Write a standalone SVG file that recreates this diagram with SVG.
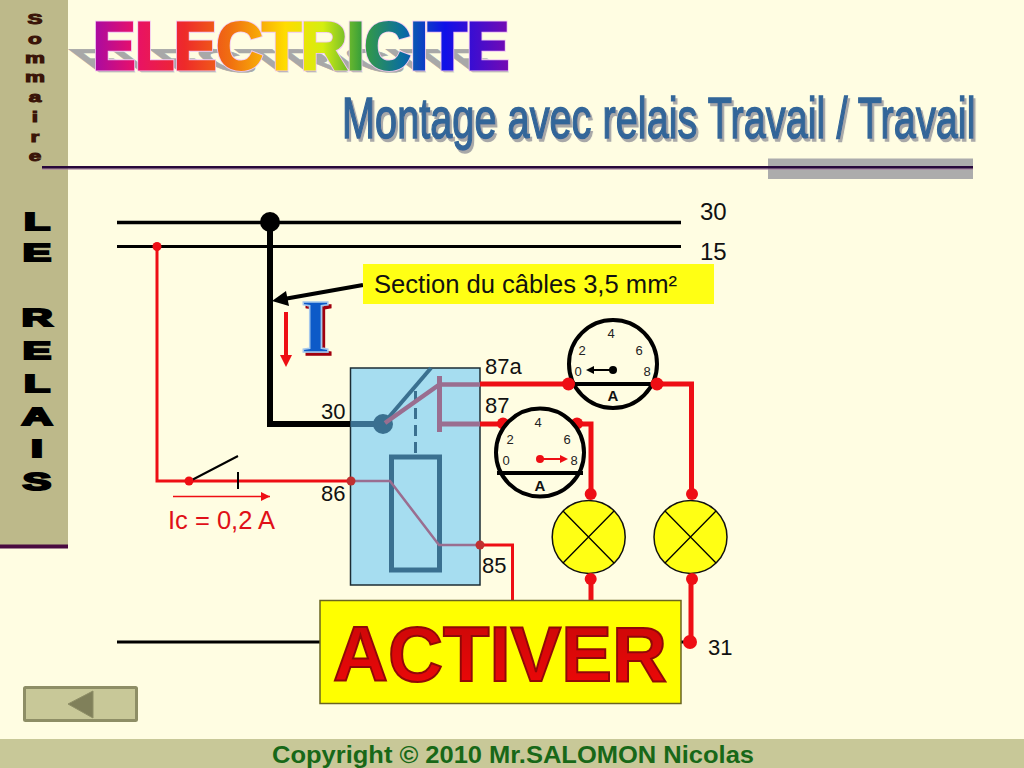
<svg xmlns="http://www.w3.org/2000/svg" xmlns:xlink="http://www.w3.org/1999/xlink" width="1024" height="768" viewBox="0 0 1024 768">
<style>
text{font-family:"Liberation Sans",Arial,sans-serif}
.lbl{font-size:22px;fill:#111}
.lbl2{font-size:24px;fill:#111}
.som{font-size:15px;font-weight:bold;fill:#3a1408;stroke:#3a1408;stroke-width:1;text-anchor:middle}
.rel{font-size:23px;font-weight:bold;fill:#000;stroke:#000;stroke-width:2;text-anchor:middle}
.dial{font-size:13px;fill:#222;text-anchor:middle}
.dialA{font-size:15px;font-weight:bold;fill:#111;text-anchor:middle}
.ring{fill:#fffde2;stroke:#000;stroke-width:4}
.lamp{fill:#ffff14;stroke:#111;stroke-width:1.5}
.wire{fill:none;stroke:#ee0e14;stroke-linejoin:miter}
.blk{fill:none;stroke:#000}
.pur{fill:none;stroke:#9a6e90}
.blu{fill:none;stroke:#3a7090}
.dot{fill:#ee0e14}
</style>
<defs>
<linearGradient id="rainbow" gradientUnits="userSpaceOnUse" x1="92" y1="0" x2="512" y2="0">
<stop offset="0" stop-color="#a50aa5"/><stop offset=".1" stop-color="#e8106a"/><stop offset=".22" stop-color="#ee2a2a"/><stop offset=".33" stop-color="#f07010"/><stop offset=".46" stop-color="#ffdc00"/><stop offset=".55" stop-color="#d4ee10"/><stop offset=".64" stop-color="#3aa03a"/><stop offset=".74" stop-color="#0a6ea0"/><stop offset=".84" stop-color="#1010e8"/><stop offset="1" stop-color="#7a0ab0"/>
</linearGradient>
<linearGradient id="red" x1="0" y1="0" x2="0" y2="1"><stop offset="0" stop-color="#c80808"/><stop offset="1" stop-color="#f00808"/></linearGradient>
<filter id="sh3" x="-5%" y="-10%" width="110%" height="130%"><feDropShadow dx="3" dy="3" stdDeviation="0" flood-color="#a8a8a8"/></filter>
<filter id="shI" x="-30%" y="-20%" width="160%" height="140%"><feDropShadow dx="3" dy="3" stdDeviation="0" flood-color="#a00010"/></filter>
<text id="elec" x="93" y="68.500" font-size="66" font-weight="bold" textLength="416" lengthAdjust="spacingAndGlyphs">ELECTRICITE</text>
<marker id="redHead" markerUnits="userSpaceOnUse" markerWidth="12" markerHeight="12" refX="9" refY="4.500" orient="auto"><path d="M0 0L9 4.500L0 9Z" fill="#ee0e14"/></marker>
</defs>

<rect id="background" width="1024" height="768" fill="#fffde2"/>

<g id="sidebar">
<rect width="68" height="547" fill="#bdb98a"/>
<rect y="544.500" width="68" height="4" fill="#4a0a40"/>
<g transform="translate(35,0)">
<text class="som" transform="translate(0,24) scale(1.5,1)">S</text>
<text class="som" transform="translate(0,44) scale(1.5,1)">o</text>
<text class="som" transform="translate(0,63) scale(1.5,1)">m</text>
<text class="som" transform="translate(0,82) scale(1.5,1)">m</text>
<text class="som" transform="translate(0,102) scale(1.5,1)">a</text>
<text class="som" transform="translate(0,122) scale(1.5,1)">i</text>
<text class="som" transform="translate(0,142) scale(1.5,1)">r</text>
<text class="som" transform="translate(0,161) scale(1.5,1)">e</text>
</g>
<g transform="translate(37,0)">
<text class="rel" transform="translate(0,229.500) scale(1.85,1)">L</text>
<text class="rel" transform="translate(0,261) scale(1.85,1)">E</text>
<text class="rel" transform="translate(0,326) scale(1.85,1)">R</text>
<text class="rel" transform="translate(0,359) scale(1.85,1)">E</text>
<text class="rel" transform="translate(0,392) scale(1.85,1)">L</text>
<text class="rel" transform="translate(0,425) scale(1.85,1)">A</text>
<text class="rel" transform="translate(0,457) scale(1.85,1)">I</text>
<text class="rel" transform="translate(0,490) scale(1.85,1)">S</text>
</g>
</g>

<g id="header">
<rect x="768" y="158.500" width="205" height="20.500" fill="#acacac"/>
<rect x="42" y="168" width="931" height="2" fill="#a880a0" opacity=".6"/>
<rect x="42" y="166" width="931" height="2.500" fill="#28083c"/>
<use href="#elec" xlink:href="#elec" fill="#a8a8a8" stroke="#a8a8a8" stroke-width="1" transform="matrix(1 0 .667 .5 -44 37.500)"/>
<use href="#elec" xlink:href="#elec" fill="#f2c8f2" stroke="#f2c8f2" stroke-width="4.500"/>
<use href="#elec" xlink:href="#elec" fill="url(#rainbow)" stroke="url(#rainbow)" stroke-width="2.800"/>
<text transform="translate(342,138) scale(.697,1)" x="0" y="0" font-size="57" fill="#336699" stroke="#336699" stroke-width="1.500" filter="url(#sh3)">Montage avec relais Travail / Travail</text>
</g>

<g id="relay-box">
<rect x="350.500" y="368" width="129.500" height="217" fill="#a6ddf0" stroke="#1c2c34" stroke-width="1.500"/>
<path class="blu" stroke-width="3" stroke-dasharray="11 6" d="M415.500 391V455"/>
<rect x="391.500" y="457" width="48" height="113" class="blu" stroke-width="5"/>
</g>

<g id="connectors">
<path class="blk" stroke-width="3.500" d="M117 222.500H681"/>
<path class="blk" stroke-width="3" d="M117 246.500H681"/>
<path class="blk" stroke-width="6" d="M270 222V424H350.500"/>
<path class="blu" stroke-width="6" d="M350.500 424H383"/>
<path class="blu" stroke-width="4" d="M383 424L431 368"/>
<path class="wire" stroke-width="3" d="M157 246.500V481H350"/>
<path class="wire" stroke-width="5" d="M480 384H691.500V494"/>
<path class="wire" stroke-width="5" d="M480 424H591V494"/>
<path class="wire" stroke-width="3" d="M480 545H512.500V600"/>
<path class="wire" stroke-width="5" d="M591 579V600"/>
<path class="wire" stroke-width="5" d="M691 579V642"/>
<path class="blk" stroke-width="3" d="M117 642H320M681 642H690"/>
<path class="blk" stroke-width="2" d="M190 481L238 456M238 472V489"/>
<path class="wire" stroke-width="1.500" d="M173 496.500H270" marker-end="url(#redHead)"/>
<path class="blk" stroke-width="4" d="M363 285L284 299"/>
<path d="M272 301L286 291L289 306Z" fill="#000"/>
<path class="wire" stroke-width="4" d="M286 312V355"/>
<path d="M280 355H292L286 367Z" fill="#ee0e14"/>
<circle cx="270" cy="222" r="10" fill="#000"/>
<circle cx="383" cy="424" r="10" fill="#3a7090"/>
<path class="pur" stroke-width="4.500" d="M385 423L439.500 384.500H480"/>
<path class="pur" stroke-width="5" d="M439.500 376V432M439.500 424H480"/>
<path class="pur" stroke-width="2.500" d="M351 481H390L439 545H480"/>
<circle class="dot" cx="157" cy="246.500" r="4.500"/>
<circle class="dot" cx="189" cy="481" r="4.500"/>
<circle cx="351" cy="481" r="4.500" fill="#c03030"/>
<circle cx="480" cy="545" r="4.500" fill="#c03030"/>
<circle class="dot" cx="503" cy="423.500" r="6"/>
<circle class="dot" cx="577" cy="423.500" r="6"/>
</g>

<g id="meter-87a">
<circle class="ring" cx="613" cy="364" r="44"/>
<path class="blk" stroke-width="4" d="M569 384H657"/>
<text class="dial" x="611" y="338">4</text><text class="dial" x="582" y="355">2</text><text class="dial" x="639" y="355">6</text><text class="dial" x="578" y="376">0</text><text class="dial" x="647" y="376">8</text>
<path class="blk" stroke-width="2" d="M613 370H592"/><path d="M586 370L594 366V374Z" fill="#000"/><circle cx="613" cy="370" r="4" fill="#000"/>
<text class="dialA" x="613" y="401">A</text>
<circle class="dot" cx="568.500" cy="384" r="6.500"/><circle class="dot" cx="657" cy="384" r="6.500"/>
</g>

<g id="meter-87">
<circle class="ring" cx="540" cy="452.500" r="44"/>
<path class="blk" stroke-width="4" d="M497 473H583"/>
<text class="dial" x="538" y="427">4</text><text class="dial" x="510" y="444">2</text><text class="dial" x="567" y="444">6</text><text class="dial" x="506" y="465">0</text><text class="dial" x="574" y="465">8</text>
<path class="wire" stroke-width="2" d="M540 459H561"/><path d="M568 459L560 455V463Z" fill="#ee0e14"/><circle class="dot" cx="540" cy="459" r="4"/>
<text class="dialA" x="540" y="491">A</text>
</g>

<g id="lamp-1">
<circle class="lamp" cx="588.700" cy="537" r="36.500"/>
<path class="blk" stroke-width="1.300" d="M563 511L614 563M614 511L563 563"/>
<circle class="dot" cx="590.700" cy="494" r="6"/><circle class="dot" cx="590.700" cy="579" r="6"/>
</g>
<g id="lamp-2">
<circle class="lamp" cx="690.500" cy="537" r="36.500"/>
<path class="blk" stroke-width="1.300" d="M665 511L716 563M716 511L665 563"/>
<circle class="dot" cx="692" cy="494" r="6"/><circle class="dot" cx="692" cy="579" r="6"/>
</g>

<g id="section-label">
<rect x="363" y="264" width="351" height="40" fill="#ffff14"/>
<text x="374" y="293" font-size="25.600" fill="#111" textLength="303" lengthAdjust="spacingAndGlyphs">Section du câbles 3,5 mm²</text>
</g>

<g id="current-symbol">
<text x="315.500" y="352" font-size="76" font-weight="bold" text-anchor="middle" style="font-family:'Liberation Serif',serif" fill="#0a5ac8" stroke="#a6c8ec" stroke-width="1.500" filter="url(#shI)">I</text>
</g>

<g id="labels">
<text class="lbl2" x="700" y="220">30</text>
<text class="lbl2" x="700" y="260">15</text>
<text class="lbl" x="485" y="374">87a</text>
<text class="lbl" x="485" y="413">87</text>
<text class="lbl" x="321" y="419">30</text>
<text class="lbl" x="321" y="501">86</text>
<text class="lbl" x="482" y="573">85</text>
<text class="lbl" x="708" y="655">31</text>
<text x="168" y="529" font-size="25.400" fill="#e01018" textLength="107" lengthAdjust="spacingAndGlyphs">Ic = 0,2 A</text>
</g>

<g id="activer">
<rect x="320" y="600.500" width="361" height="103" fill="#ffff00" stroke="#6a6420" stroke-width="1.500"/>
<text x="333" y="681" font-size="78" font-weight="bold" fill="url(#red)" stroke="#900808" stroke-width="2" textLength="334" lengthAdjust="spacingAndGlyphs">ACTIVER</text>
</g>
<circle id="terminal-31" class="dot" cx="690" cy="642" r="7"/>

<g id="back-button">
<rect x="24.500" y="687.500" width="112" height="33" rx="1" fill="#c8c898" stroke="#8e8e66" stroke-width="3"/>
<path d="M68 704L93 691V718Z" fill="#80805a" stroke="#8e8e66" stroke-width="1"/>
</g>

<g id="footer">
<rect y="739" width="1024" height="29" fill="#c8c898"/>
<text x="272" y="763" font-size="24" font-weight="bold" fill="#186818" textLength="482" lengthAdjust="spacingAndGlyphs">Copyright © 2010 Mr.SALOMON Nicolas</text>
</g>
</svg>
